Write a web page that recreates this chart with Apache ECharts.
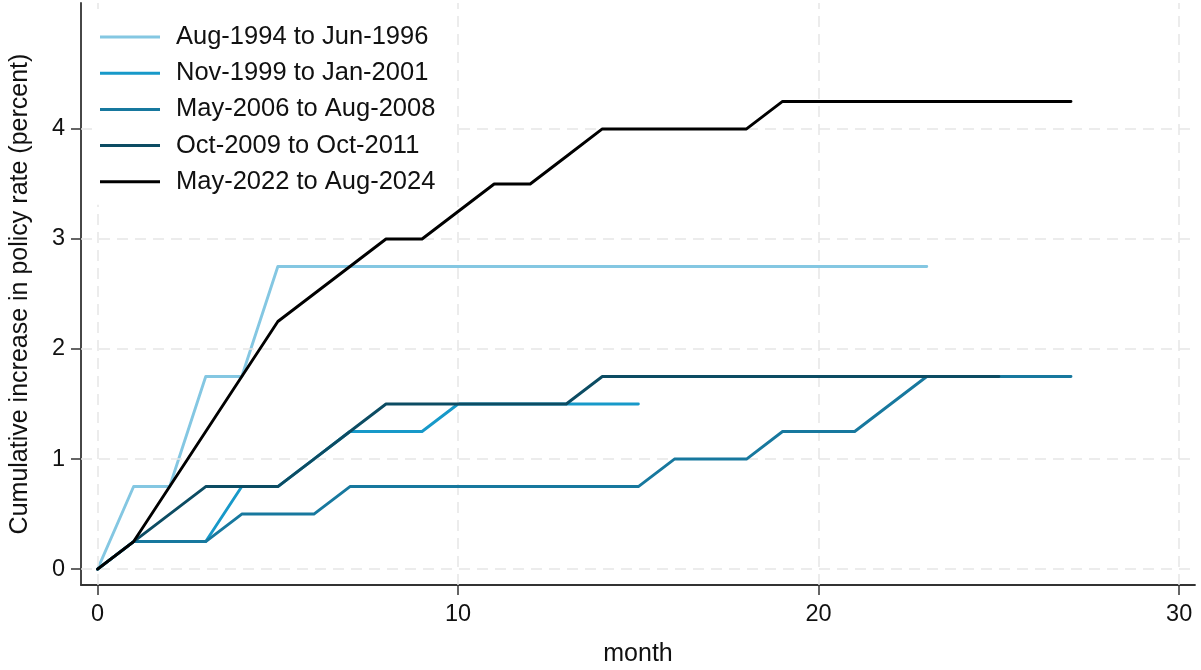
<!DOCTYPE html>
<html>
<head>
<meta charset="utf-8">
<script src="https://cdn.jsdelivr.net/npm/echarts@6/dist/echarts.min.js"></script>
<style>
html,body{margin:0;padding:0;background:#fff;}
#chart{width:1201px;height:670px;}
</style>
</head>
<body>
<div id="chart"></div>
<script>
// ---- data (month index = position in array, starting at 0) ----
const seriesNames = [
  'Aug-1994 to Jun-1996',
  'Nov-1999 to Jan-2001',
  'May-2006 to Aug-2008',
  'Oct-2009 to Oct-2011',
  'May-2022 to Aug-2024'
];
const aug1994 = [0,0.75,0.75,1.75,1.75,2.75,2.75,2.75,2.75,2.75,2.75,2.75,2.75,2.75,2.75,2.75,2.75,2.75,2.75,2.75,2.75,2.75,2.75,2.75];
const nov1999 = [0,0.25,0.25,0.25,0.75,0.75,1.0,1.25,1.25,1.25,1.5,1.5,1.5,1.5,1.5,1.5];
const may2006 = [0,0.25,0.25,0.25,0.5,0.5,0.5,0.75,0.75,0.75,0.75,0.75,0.75,0.75,0.75,0.75,1.0,1.0,1.0,1.25,1.25,1.25,1.5,1.75,1.75,1.75,1.75,1.75];
const oct2009 = [0,0.25,0.5,0.75,0.75,0.75,1.0,1.25,1.5,1.5,1.5,1.5,1.5,1.5,1.75,1.75,1.75,1.75,1.75,1.75,1.75,1.75,1.75,1.75,1.75,1.75];
const may2022 = [0,0.25,0.75,1.25,1.75,2.25,2.5,2.75,3.0,3.0,3.25,3.5,3.5,3.75,4.0,4.0,4.0,4.0,4.0,4.25,4.25,4.25,4.25,4.25,4.25,4.25,4.25,4.25];
const xTicks = [0,10,20,30];
const yTicks = [0,1,2,3,4];

// ---- styling ----
const seriesValues = [aug1994, nov1999, may2006, oct2009, may2022];
const colors = ['#84c7e2','#1799c9','#17789e','#0c4c63','#000000'];
const FONT = 'Liberation Sans, Arial, sans-serif';
const axisColor = '#333';
const gridColor = '#e6e6e6';
const textColor = '#111';

const chart = echarts.init(document.getElementById('chart'), null, {renderer:'canvas'});

const lineSeries = seriesValues.map((vals, k) => ({
  name: seriesNames[k],
  type: 'line',
  data: vals.map((v, i) => [i, v]),
  showSymbol: false,
  symbol: 'none',
  lineStyle: {color: colors[k], width: 2.9, cap: 'round', join: 'round'},
  itemStyle: {color: colors[k]},
  z: 3 + k,
  silent: true,
  animation: false
}));

const gridSeries = {
  name: '__grid',
  type: 'line',
  data: [],
  z: 1,
  silent: true,
  animation: false,
  markLine: {
    silent: true,
    symbol: ['none','none'],
    label: {show: false},
    animation: false,
    lineStyle: {color: gridColor, type: [11, 7], width: 1.5},
    data: yTicks.map(v => ({yAxis: v})).concat(xTicks.map(v => ({xAxis: v})))
  }
};

chart.setOption({
  animation: false,
  backgroundColor: '#fff',
  textStyle: {fontFamily: FONT},
  grid: {left: 81, right: 6, top: 3, bottom: 85, containLabel: false, outerBoundsMode: 'none'},
  legend: {
    data: seriesNames.map(n => ({name: n, icon: 'rect'})),
    orient: 'vertical',
    left: 92,
    top: 14,
    padding: [10, 20, 10, 8],
    backgroundColor: '#fff',
    itemWidth: 60,
    itemHeight: 3,
    itemGap: 10.2,
    textStyle: {fontFamily: FONT, fontSize: 25.5, color: textColor, lineHeight: 26, padding: [0,0,0,11]},
    z: 10
  },
  xAxis: {
    type: 'value',
    min: -0.46,
    max: 30.44,
    name: 'month',
    nameLocation: 'middle',
    nameGap: 57,
    nameTextStyle: {fontFamily: FONT, fontSize: 25, color: textColor},
    axisLine: {show: true, onZero: false, lineStyle: {color: axisColor, width: 1.8}},
    axisTick: {show: true, length: 10, lineStyle: {color: axisColor, width: 1.5}, customValues: xTicks},
    axisLabel: {show: true, fontFamily: FONT, fontSize: 23.5, color: textColor, margin: 18, customValues: xTicks},
    splitLine: {show: false}
  },
  yAxis: {
    type: 'value',
    min: -0.145,
    max: 5.145,
    name: 'Cumulative increase in policy rate (percent)',
    nameLocation: 'middle',
    nameGap: 48,
    nameRotate: 90,
    nameTextStyle: {fontFamily: FONT, fontSize: 25, color: textColor},
    axisLine: {show: true, onZero: false, lineStyle: {color: axisColor, width: 1.8}},
    axisTick: {show: true, length: 10, lineStyle: {color: axisColor, width: 1.5}, customValues: yTicks},
    axisLabel: {show: true, fontFamily: FONT, fontSize: 23.5, color: textColor, margin: 16, customValues: yTicks},
    splitLine: {show: false}
  },
  series: [gridSeries].concat(lineSeries)
});
</script>
</body>
</html>
